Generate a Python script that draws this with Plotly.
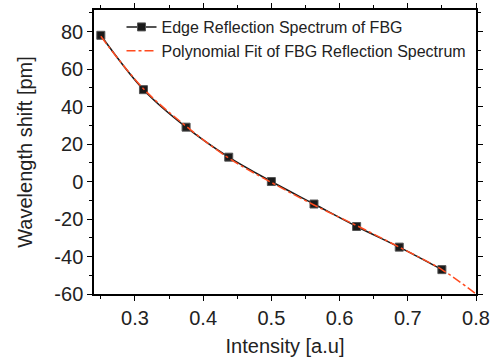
import plotly.graph_objects as go

intensity = [0.25, 0.3125, 0.375, 0.4375, 0.5, 0.5625, 0.625, 0.6875, 0.75]
shift = [78, 49, 29, 13, 0, -12, -24, -35, -47]

fit_x = [0.25, 0.3125, 0.375, 0.4375, 0.5, 0.5625, 0.625, 0.6875, 0.75, 0.8]
fit_y = [77.5, 49.5, 29.5, 12.5, -0.5, -12.5, -23.5, -35, -47, -60]

x_ticks = [0.3, 0.4, 0.5, 0.6, 0.7, 0.8]
x_labels = ["0.3", "0.4", "0.5", "0.6", "0.7", "0.8"]
y_ticks = [-60, -40, -20, 0, 20, 40, 60, 80]
y_labels = ["-60", "-40", "-20", "0", "20", "40", "60", "80"]

FONT = "Liberation Sans, Arial"

fig = go.Figure()
fig.add_trace(go.Scatter(
    x=intensity, y=shift, mode="lines+markers",
    name="Edge Reflection Spectrum of FBG",
    line=dict(color="#1a1a1a", width=1.5, shape="spline"),
    marker=dict(symbol="square", size=8, color="#1a1a1a", line=dict(color="#555", width=1)),
))
fig.add_trace(go.Scatter(
    x=fit_x, y=fit_y, mode="lines",
    name="Polynomial Fit of FBG Reflection Spectrum",
    line=dict(color="#ff4b1f", width=1.5, dash="dashdot", shape="spline"),
))

axis_common = dict(
    showline=True, linecolor="black", linewidth=1.5, mirror="ticks",
    ticks="outside", ticklen=5, tickwidth=1, tickcolor="black",
    showgrid=False, zeroline=False, automargin=False,
    tickfont=dict(family=FONT, size=20, color="#222"),
)
fig.update_xaxes(range=[0.24, 0.8], tickmode="array", tickvals=x_ticks, ticktext=x_labels,
                 minor=dict(ticks="outside", ticklen=3, dtick=0.05, tick0=0.25, tickcolor="black"),
                 title=dict(text="Intensity [a.u]", font=dict(family=FONT, size=20, color="#222"), standoff=11),
                 **axis_common)
fig.update_yaxes(range=[-60, 91.5], tickmode="array", tickvals=y_ticks, ticktext=y_labels,
                 minor=dict(ticks="outside", ticklen=3, dtick=10, tickcolor="black"),
                 title=dict(text="Wavelength shift [pm]", font=dict(family=FONT, size=20, color="#222"), standoff=16),
                 **axis_common)

fig.update_layout(
    width=498, height=359,
    margin=dict(l=94, r=22, t=10, b=65, autoexpand=False),
    plot_bgcolor="white", paper_bgcolor="white",
    legend=dict(x=0.072, y=1.0, xanchor="left", yanchor="top",
                bgcolor="rgba(0,0,0,0)", font=dict(family=FONT, size=16, color="#222"),
                tracegroupgap=0, itemwidth=30),
    showlegend=True,
)
fig.write_html("out.html", config={"displayModeBar": False},
               post_script="document.body.style.margin='0';")
